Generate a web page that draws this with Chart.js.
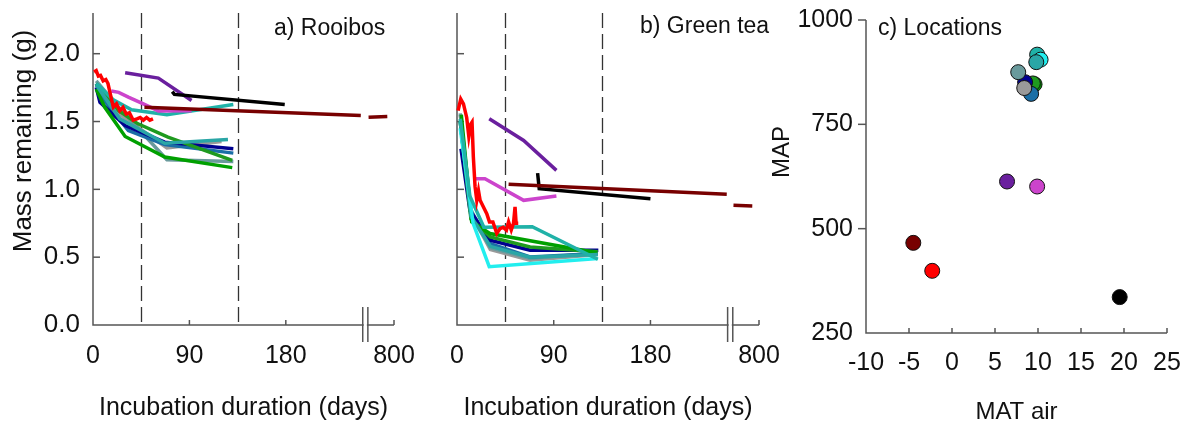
<!DOCTYPE html>
<html><head><meta charset="utf-8">
<script src="https://cdn.jsdelivr.net/npm/chart.js@4.4.1/dist/chart.umd.min.js"></script>
<style>
html,body{margin:0;padding:0;background:#fff;}
#wrap{position:relative;width:1191px;height:427px;overflow:hidden;background:#fff;}
canvas{position:absolute;left:0;top:0;width:1191px;height:427px;}
</style></head><body>
<div id="wrap">
<canvas id="ca" width="1191" height="427"></canvas>
<canvas id="cb" width="1191" height="427"></canvas>
<canvas id="cc" width="1191" height="427"></canvas>
</div>
<script>
// ---------- data ----------
const siteNames  = ['red','darkred','black','purple','orchid','teal','cyan','turquoise','green','green2','navy','steelblue','cadetgray','gray'];
const siteColors = ['#ff0000','#780000','#000000','#6a1f9e','#cc44cc','#20b2a8','#22eeee','#2aa6a6','#00a000','#1f9a1f','#000090','#1a6ea6','#6a9a9c','#9a9a9a'];
const matAir = [-2.3, -4.5, 19.5, 6.4, 9.9, 9.9, 10.3, 9.8, 9.6, 9.4, 8.5, 9.2, 7.7, 8.4];
const mapMm  = [399, 466, 336, 613, 601, 917, 905, 899, 846, 848, 851, 823, 875, 837];

const dayTicks = [0, 90, 180, 800];
const massTicks = [0, 0.5, 1.0, 1.5, 2.0];
const dashedDays = [45, 135];
const matTicks = [-10, -5, 0, 5, 10, 15, 20, 25];
const mapTicks = [250, 500, 750, 1000];

// Rooibos: [day, mass g]
const rooibos_red = [[1,1.865],[3,1.875],[5,1.835],[7,1.84],[9.5,1.80],[12,1.81],[14,1.78],[16.5,1.69],[19,1.605],[22,1.63],[25,1.58],[28,1.605],[31,1.555],[34,1.565],[37.5,1.51],[41,1.52],[44,1.53],[47,1.51],[50,1.53],[53,1.51],[56,1.52]];
const rooibos_darkred = [[48,1.605],[250,1.545],[500,null],[705,1.532],[775,1.537]];
const rooibos_black = [[74,1.72],[76,1.70],[179,1.625]];
const rooibos_purple = [[30,1.86],[61,1.82],[92,1.655]];
const rooibos_orchid = [[17,1.725],[24,1.715],[33,1.68],[47,1.63],[61,1.578],[92,1.58]];
const rooibos_teal = [[3,1.78],[19,1.66],[36,1.586],[69,1.55],[131,1.625]];
const rooibos_cyan = [];
const rooibos_turquoise = [[3,1.77],[25,1.52],[67,1.34],[126,1.368]];
const rooibos_green = [[3,1.74],[11,1.605],[30,1.39],[67,1.238],[130,1.16]];
const rooibos_green2 = [[3,1.78],[24,1.58],[42,1.483],[70,1.385],[130,1.213]];
const rooibos_navy = [[3,1.752],[6.5,1.642],[30,1.47],[67,1.348],[131,1.299]];
const rooibos_steelblue = [[3,1.78],[10,1.66],[33,1.434],[67,1.33],[131,1.267]];
const rooibos_cadetgray = [[3,1.80],[24,1.605],[69,1.218],[131,1.206]];
const rooibos_gray = [[3,1.77],[20,1.58],[69,1.306],[120,1.353]];

// Green tea: [day, mass g]
const greentea_red = [[1,1.58],[3.5,1.665],[6,1.63],[9,1.53],[11,1.39],[12.8,1.48],[14,1.495],[15.2,1.24],[16.8,1.02],[18.4,0.92],[20,0.99],[21.5,0.92],[24.6,0.87],[27.7,0.82],[30.2,0.76],[33.4,0.76],[37,0.675],[40,0.71],[43,0.72],[46,0.70],[48,0.76],[50.5,0.70],[52.6,0.75],[54,0.87],[55,0.75],[57,0.75]];
const greentea_darkred = [[48,1.037],[251,0.963],[500,null],[705,0.882],[775,0.877]];
const greentea_black = [[75,1.12],[76.5,1.005],[180,0.93]];
const greentea_purple = [[30,1.52],[62,1.36],[92.5,1.14]];
const greentea_orchid = [[17.5,1.078],[26,1.078],[62,0.919],[92.5,0.951]];
const greentea_teal = [[3,1.52],[12,0.95],[25,0.72],[70,0.725],[131,0.485]];
const greentea_cyan = [[3,1.45],[15,0.75],[30,0.43],[131,0.49]];
const greentea_turquoise = [[3,1.5],[13,0.8],[31,0.58],[68,0.5],[131,0.52]];
const greentea_green = [[4,1.55],[13.7,0.76],[30.7,0.674],[130,0.532]];
const greentea_green2 = [[3,1.5],[13,0.78],[31,0.65],[68,0.575],[131,0.54]];
const greentea_navy = [[3.7,1.30],[12,0.846],[30.7,0.625],[68,0.551],[131.5,0.551]];
const greentea_steelblue = [[3,1.5],[13,0.80],[31,0.60],[68,0.502],[131,0.527]];
const greentea_cadetgray = [[3,1.56],[13,0.85],[31,0.57],[68,0.49],[131,0.53]];
const greentea_gray = [[3,1.55],[13,0.82],[31,0.556],[68,0.478],[131,0.52]];

const rooibosSeries = [rooibos_red, rooibos_darkred, rooibos_black, rooibos_purple, rooibos_orchid, rooibos_teal, rooibos_cyan, rooibos_turquoise, rooibos_green, rooibos_green2, rooibos_navy, rooibos_steelblue, rooibos_cadetgray, rooibos_gray];
const greenteaSeries = [greentea_red, greentea_darkred, greentea_black, greentea_purple, greentea_orchid, greentea_teal, greentea_cyan, greentea_turquoise, greentea_green, greentea_green2, greentea_navy, greentea_steelblue, greentea_cadetgray, greentea_gray];

// ---------- broken day axis ----------
const BREAK_FROM = 254, BREAK_TO = 256, LATE_START = 700, LATE_SCALE = 0.25;
function toAxis(d) { return d <= BREAK_FROM ? d : BREAK_TO + (Math.max(d, LATE_START) - LATE_START) * LATE_SCALE; }

const FONT = "'Liberation Sans', Arial, Helvetica, sans-serif";
const TXT = '#111';
const AXIS = '#555';
Chart.defaults.font.family = FONT;
Chart.defaults.color = TXT;
const W = 1191, H = 427;

function seg(ctx, x1, y1, x2, y2) { ctx.beginPath(); ctx.moveTo(x1, y1); ctx.lineTo(x2, y2); ctx.stroke(); }

function decayPanel(id, series, box, padLeft, showYLabels, label, yTitle) {
  const datasets = series.map((s, i) => ({
    data: s.map(([d, g]) => ({x: toAxis(d), y: g})),
    borderColor: siteColors[i], borderWidth: 3.5, pointRadius: 0, pointHoverRadius: 0,
    fill: false, tension: 0, spanGaps: false, clip: 6
  }));
  const plugin = {
    id: 'decor_' + id,
    beforeDatasetsDraw(chart) {
      const {ctx, chartArea: {left, right, top, bottom}, scales: {x, y}} = chart;
      ctx.save();
      ctx.strokeStyle = '#333'; ctx.lineWidth = 1.3; ctx.setLineDash([15, 6]);
      dashedDays.forEach(d => { const px = Math.round(x.getPixelForValue(toAxis(d))) + 0.5; seg(ctx, px, top, px, bottom); });
      ctx.setLineDash([]);
      ctx.strokeStyle = AXIS; ctx.lineWidth = 1.5;
      ctx.beginPath(); ctx.moveTo(left, top); ctx.lineTo(left, bottom); ctx.lineTo(right, bottom); ctx.stroke();
      massTicks.forEach(v => { if (v === 0) return; const py = y.getPixelForValue(v); seg(ctx, left, py, left + 7, py); });
      dayTicks.forEach(d => { if (d === 0) return; const px = x.getPixelForValue(toAxis(d)); seg(ctx, px, bottom, px, bottom - 5); });
      const b1 = x.getPixelForValue(251.8), b2 = x.getPixelForValue(256.6);
      ctx.fillStyle = '#fff'; ctx.fillRect(b1 + 1, bottom - 2, b2 - b1 - 2, 4);
      seg(ctx, b1, bottom - 18, b1, bottom + 17);
      seg(ctx, b2, bottom - 18, b2, bottom + 17);
      ctx.restore();
    },
    afterDraw(chart) {
      const {ctx} = chart;
      ctx.save();
      ctx.fillStyle = TXT;
      ctx.font = '23px ' + FONT; ctx.textBaseline = 'middle'; ctx.textAlign = 'left';
      ctx.fillText(label.text, label.x, label.y);
      if (yTitle) {
        ctx.translate(yTitle.x, yTitle.y); ctx.rotate(-Math.PI / 2);
        ctx.font = yTitle.size + 'px ' + FONT; ctx.textAlign = 'center';
        ctx.fillText(yTitle.text, 0, 0);
      }
      ctx.restore();
    }
  };
  return new Chart(document.getElementById(id), {
    type: 'line',
    data: {datasets},
    plugins: [plugin],
    options: {
      responsive: false, animation: false, devicePixelRatio: 1, events: [],
      layout: {padding: {left: padLeft, top: box.top, right: W - box.right, bottom: 0}},
      plugins: {legend: {display: false}, tooltip: {enabled: false}},
      scales: {
        x: {
          type: 'linear', min: 0, max: toAxis(800),
          afterBuildTicks: s => { s.ticks = dayTicks.map(d => ({value: toAxis(d)})); },
          ticks: {autoSkip: false, maxRotation: 0, minRotation: 0, padding: 16, font: {size: 25}, color: TXT,
                  callback: (v, i) => String(dayTicks[i])},
          grid: {display: false, drawTicks: false}, border: {display: false},
          title: {display: true, text: 'Incubation duration (days)', font: {size: 25}, color: TXT, padding: {top: 0, bottom: 4}},
          afterFit: s => { s.height = H - box.bottom; s.paddingLeft = 0; s.paddingRight = 0; }
        },
        y: {
          type: 'linear', min: 0, max: 2.3,
          afterBuildTicks: s => { s.ticks = massTicks.map(v => ({value: v})); },
          ticks: {display: showYLabels, padding: 13, font: {size: 26}, color: TXT, callback: v => v.toFixed(1)},
          grid: {display: false, drawTicks: false}, border: {display: false},
          afterFit: s => { s.width = box.left - padLeft; s.paddingTop = 0; s.paddingBottom = 0; }
        }
      }
    }
  });
}

decayPanel('ca', rooibosSeries, {left: 93, right: 394, top: 13, bottom: 325}, 0, true,
  {text: 'a) Rooibos', x: 274, y: 29}, {text: 'Mass remaining (g)', x: 24, y: 141, size: 26});
decayPanel('cb', greenteaSeries, {left: 457, right: 759, top: 13, bottom: 325}, 457, false,
  {text: 'b) Green tea', x: 640, y: 27}, null);

// ---------- c) Locations ----------
(function () {
  const box = {left: 866, right: 1167, top: 20, bottom: 333};
  const padLeft = 770;
  const plugin = {
    id: 'decor_c',
    beforeDatasetsDraw(chart) {
      const {ctx, chartArea: {left, right, top, bottom}, scales: {x, y}} = chart;
      ctx.save();
      ctx.strokeStyle = AXIS; ctx.lineWidth = 1.5;
      ctx.beginPath(); ctx.moveTo(left, top); ctx.lineTo(left, bottom); ctx.lineTo(right, bottom); ctx.stroke();
      mapTicks.forEach(v => { if (v === 250) return; const py = y.getPixelForValue(v); seg(ctx, left, py, left - 8, py); });
      matTicks.forEach(v => { if (v === -10) return; const px = x.getPixelForValue(v); seg(ctx, px, bottom, px, bottom - 5); });
      ctx.restore();
    },
    afterDraw(chart) {
      const {ctx} = chart;
      ctx.save();
      ctx.fillStyle = TXT;
      ctx.font = '23px ' + FONT; ctx.textBaseline = 'middle'; ctx.textAlign = 'left';
      ctx.fillText('c) Locations', 878, 29);
      ctx.translate(782, 152); ctx.rotate(-Math.PI / 2);
      ctx.font = '24px ' + FONT; ctx.textAlign = 'center';
      ctx.fillText('MAP', 0, 0);
      ctx.restore();
    }
  };
  new Chart(document.getElementById('cc'), {
    type: 'scatter',
    data: {datasets: [{
      data: matAir.map((t, i) => ({x: t, y: mapMm[i]})),
      backgroundColor: siteColors, borderColor: '#111', borderWidth: 1,
      pointRadius: 7.5, pointHoverRadius: 7.5, clip: 10
    }]},
    plugins: [plugin],
    options: {
      responsive: false, animation: false, devicePixelRatio: 1, events: [],
      layout: {padding: {left: padLeft, top: box.top, right: W - box.right, bottom: 0}},
      plugins: {legend: {display: false}, tooltip: {enabled: false}},
      scales: {
        x: {
          type: 'linear', min: -10, max: 25,
          afterBuildTicks: s => { s.ticks = matTicks.map(v => ({value: v})); },
          ticks: {autoSkip: false, maxRotation: 0, minRotation: 0, padding: 15, font: {size: 25}, color: TXT,
                  callback: v => String(v)},
          grid: {display: false, drawTicks: false}, border: {display: false},
          title: {display: true, text: 'MAT air', font: {size: 24}, color: TXT, padding: {top: 0, bottom: 0}},
          afterFit: s => { s.height = H - box.bottom; s.paddingLeft = 0; s.paddingRight = 0; }
        },
        y: {
          type: 'linear', min: 250, max: 1000,
          afterBuildTicks: s => { s.ticks = mapTicks.map(v => ({value: v})); },
          ticks: {padding: 13, font: {size: 25}, color: TXT, callback: v => String(v)},
          grid: {display: false, drawTicks: false}, border: {display: false},
          afterFit: s => { s.width = box.left - padLeft; s.paddingTop = 0; s.paddingBottom = 0; }
        }
      }
    }
  });
})();
</script>
</body></html>
